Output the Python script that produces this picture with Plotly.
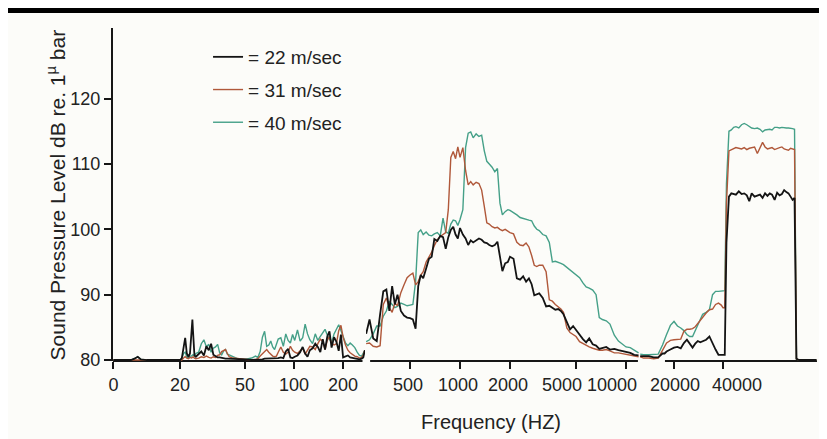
import plotly.graph_objects as go

# ---------------- data ----------------
# low band (0 .. ~270 Hz)
FREQ_LOW = [7.8, 9, 10, 10.5, 11, 11.5, 12.5, 15, 19, 20,
            20.5, 21, 21.5, 22, 22.5, 23, 23.5, 23.8, 24, 24.5,
            25, 26, 27, 28, 29, 30, 31, 32, 33, 34,
            35, 36, 37, 38, 39, 40, 42, 45, 50, 55,
            58, 60, 62, 64, 66, 68, 70, 72, 74, 76,
            78, 80, 83, 86, 89, 92, 95, 98, 101, 105,
            109, 113, 117, 121, 125, 130, 135, 140, 145, 150,
            155, 160, 165, 170, 176, 182, 188, 194, 200, 207,
            214, 221, 228, 236, 244, 252, 260, 266, 272]
SPL_22_LOW = [80, 80, 80, 80.2, 80.5, 80.1, 80, 80, 80, 80,
              80.3, 82.0, 83.4, 81.0, 80.5, 81.0, 83.5, 86.2, 84.5, 80.7,
              80.5, 80.9, 81.3, 80.7, 82.1, 81.5, 82.5, 80.8, 80.6, 80.4,
              80.4, 80.3, 80.3, 80.2, 80.2, 80.2, 80.2, 80.1, 80.1, 80.0,
              80.0, 80.1, 80.1, 80.1, 80.2, 80.2, 80.2, 80.2, 80.3, 80.2,
              80.2, 80.3, 80.4, 80.3, 81.3, 81.7, 80.4, 80.3, 80.5, 80.7,
              81.2, 82.0, 81.0, 80.5, 81.5, 81.8, 82.5, 82.0, 81.2, 83.2,
              81.6, 83.6, 84.4, 81.9, 83.5, 82.8, 81.4, 83.9, 80.4, 80.5,
              80.7, 80.4, 80.3, 80.2, 80.1, 80.1, 80.2, 80.4, 81.5]
SPL_31_LOW = [80, 80, 80, 80, 80, 80, 80, 80, 80, 80,
              80, 80.3, 80.5, 80.3, 80.2, 80.4, 80.3, 80.4, 80.5, 80.3,
              80.2, 80.3, 80.5, 80.4, 80.6, 80.4, 80.3, 80.5, 80.4, 80.7,
              80.8, 81.3, 81.5, 81.6, 81.0, 80.5, 80.3, 80.2, 80.1, 80.0,
              80.1, 80.2, 80.6, 81.0, 81.3, 81.6, 81.2, 80.9, 80.6, 80.5,
              80.6, 81.2, 82.0, 81.2, 80.9, 81.2, 82.1, 81.5, 81.2, 81.0,
              81.5, 81.8, 80.9, 81.5, 82.1, 82.0, 81.6, 82.5, 83.2, 82.8,
              81.6, 83.0, 83.6, 82.6, 82.3, 82.5, 84.5, 85.3, 83.5, 82.3,
              81.5, 81.1, 80.8, 80.6, 80.5, 80.3, 80.4, 80.8, 81.5]
SPL_40_LOW = [80, 80, 80, 80.2, 80.5, 80.1, 80, 80, 80, 80,
              80.2, 81.0, 81.2, 80.5, 80.3, 80.6, 80.6, 80.7, 80.8, 80.6,
              81.0, 81.2, 82.5, 83.1, 82.0, 82.4, 81.2, 81.8, 82.0, 82.4,
              81.1, 80.8, 81.4, 81.6, 80.9, 80.8, 80.5, 80.2, 80.1, 80.3,
              80.6, 80.4, 81.3, 83.5, 84.4, 82.1, 82.3, 82.9, 82.0, 81.6,
              82.4, 83.2, 83.4, 82.1, 84.0, 83.0, 82.6, 83.9, 83.0, 84.6,
              82.9, 83.4, 85.5, 84.0, 83.1, 82.5, 84.0, 83.0, 83.6, 84.2,
              84.7, 83.8, 83.2, 82.6, 84.0, 84.7, 85.4, 84.5, 83.5, 82.6,
              82.2, 82.6, 82.3, 81.9, 81.2, 80.7, 80.6, 81.0, 81.5]

# middle band (~270 Hz .. ~12 kHz)
FREQ_MID = [272, 285, 300, 315, 330, 345, 360, 375, 390, 405,
            420, 440, 460, 480, 500, 520, 540, 560, 580, 600,
            625, 650, 675, 700, 730, 760, 790, 820, 850, 880,
            910, 940, 970, 1000, 1040, 1080, 1120, 1160, 1200, 1250,
            1300, 1350, 1400, 1450, 1500, 1560, 1620, 1680, 1740, 1800,
            1870, 1940, 2000, 2100, 2200, 2300, 2400, 2500, 2600, 2700,
            2800, 2900, 3000, 3150, 3300, 3450, 3600, 3750, 3900, 4050,
            4200, 4400, 4600, 4800, 5000, 5250, 5500, 5750, 6000, 6300,
            6600, 6900, 7200, 7600, 8000, 8500, 9000, 9500, 10000, 10600,
            11200, 11900]
SPL_22_MID = [84.0, 86.2, 83.3, 82.9, 87.0, 90.5, 90.8, 87.5, 91.3, 88.5,
              90.0, 87.5, 86.8, 86.5, 86.4, 86.2, 84.8, 91.3, 93.0, 92.5,
              94.0, 95.5, 95.8, 98.5, 98.2, 99.0, 98.8, 97.0, 98.8, 99.9,
              100.4, 99.2, 98.6, 100.2, 99.2, 98.6, 97.6, 98.3, 98.0, 98.3,
              98.6, 98.4, 98.0, 97.9, 97.6, 97.4, 97.6, 98.1, 95.8, 93.6,
              94.8, 95.0, 95.8, 95.5, 92.5, 92.3, 92.8, 92.0, 92.5, 91.6,
              89.9, 90.0, 90.2, 89.5, 88.2, 88.3, 88.0, 87.7, 87.8, 87.5,
              87.0, 85.8, 84.7, 85.2, 84.6, 83.7, 83.2, 82.7, 83.3, 82.4,
              82.2, 81.7, 81.8, 82.0, 81.6, 81.7, 81.5, 81.4, 81.3, 81.1,
              80.8, 80.7]
SPL_31_MID = [82.5, 82.6, 82.1, 82.0, 82.2, 88.5, 89.5, 88.0, 87.3, 88.7,
              88.3, 90.3, 91.5, 92.6, 93.0, 93.3, 91.5, 92.0, 93.0, 93.5,
              95.0, 95.8, 96.5, 97.5, 98.4, 98.9, 99.2, 99.5, 103.0, 111.0,
              111.9, 110.8, 112.6, 111.0, 112.5, 109.0, 106.8, 107.3, 106.8, 107.2,
              107.0, 106.0, 103.5, 101.0, 100.8, 100.4, 100.2, 100.3, 100.0, 99.8,
              100.0, 99.7, 99.5, 99.3, 98.0, 97.6, 97.5, 97.9, 97.3, 96.0,
              94.5, 94.3, 94.5, 94.5, 93.5, 89.2, 89.0, 88.5, 88.2, 87.8,
              87.3, 84.9, 84.2, 83.9, 83.6, 82.8, 82.5, 82.2, 82.0, 81.8,
              81.6, 81.5, 81.5, 81.6, 81.4, 81.1, 81.1, 81.0, 80.8, 80.7,
              80.6, 80.5]
SPL_40_MID = [82.8, 83.1, 84.0, 85.2, 85.2, 86.7, 87.5, 89.0, 88.5, 88.0,
              88.2, 88.7, 88.5, 88.3, 88.4, 88.5, 92.0, 99.5, 99.9, 99.2,
              99.6, 99.1, 99.0, 99.3, 99.5, 99.0, 101.7, 99.6, 99.4, 100.8,
              101.4, 101.3, 100.6, 101.5, 103.0, 112.5, 114.7, 114.9, 114.0, 114.6,
              114.2, 114.4, 112.0, 110.4, 110.0, 109.5, 108.8, 109.3, 104.0, 102.2,
              102.7, 103.0, 102.9, 102.6, 102.2, 101.8, 101.7, 101.5, 101.4, 101.3,
              100.5, 100.0, 99.8, 99.2, 99.0, 98.0, 95.0, 95.1, 95.0, 94.8,
              94.6, 94.2, 93.8, 93.4, 93.0, 92.6, 91.8, 91.2, 91.0, 90.7,
              90.0, 86.5, 86.2, 86.0, 85.5, 83.8, 82.9, 82.4, 82.0, 81.9,
              81.5, 81.1]

# high band (~12 kHz .. 150 kHz)
FREQ_HIGH = [12400, 13000, 14000, 15000, 16000, 17000, 17500, 18000, 18500, 19000,
             20000, 21000, 22000, 23000, 24000, 25000, 26000, 27000, 28000, 29000,
             30000, 31500, 33000, 34500, 36000, 37500, 39000, 40000, 41000, 42000,
             43500, 45000, 46500, 48000, 50000, 52000, 54000, 56000, 58000, 60000,
             62500, 65000, 67500, 70000, 72500, 75000, 77500, 80000, 83000, 86000,
             89000, 92000, 95000, 98000, 101000, 104000, 107000, 110000, 113000, 117000,
             125000, 135000, 150000]
SPL_22_HIGH = [80.6, 80.6, 80.6, 80.4, 80.4, 81.0, 81.0, 81.3, 81.5, 81.6,
               81.9, 82.0, 81.8, 82.6, 83.1, 82.5, 81.9, 82.5, 82.9, 82.7,
               82.9, 83.1, 83.6, 82.5, 81.6, 80.8, 80.8, 80.8, 80.8, 98.0,
               105.0, 105.5, 105.4, 105.3, 105.8, 105.4, 105.5, 105.2, 104.3, 105.5,
               105.0, 105.2, 105.3, 104.8, 105.5, 105.1, 105.5, 105.3, 104.5, 105.6,
               105.2, 105.4, 106.0, 105.7, 105.5, 105.0, 104.5, 104.8, 80.2, 80.0,
               80.0, 80.0, 80.0]
SPL_31_HIGH = [80.5, 80.3, 80.3, 80.2, 80.3, 81.5, 82.0, 82.6, 82.8, 83.0,
               83.1, 83.1, 83.2, 84.4, 84.7, 84.7, 84.8, 85.1, 85.6, 86.2,
               86.6, 87.2, 87.7, 87.8, 88.5, 88.7, 88.4, 88.0, 88.0, 104.0,
               112.0, 112.2, 112.3, 112.5, 112.4, 112.3, 112.5, 112.2, 112.4, 112.5,
               112.6, 111.6, 112.4, 113.3, 112.6, 112.3, 112.4, 112.5, 112.2, 112.4,
               112.5, 112.6, 112.3, 112.2, 112.1, 112.4, 112.3, 112.2, 80.2, 80.0,
               80.0, 80.0, 80.0]
SPL_40_HIGH = [80.9, 80.8, 80.8, 80.8, 80.9, 82.3, 83.3, 83.9, 84.6, 85.3,
               85.9, 85.2, 84.9, 84.5, 83.9, 83.6, 83.6, 84.5, 85.5, 86.3,
               87.0, 87.3, 87.7, 90.0, 90.5, 90.5, 90.5, 90.6, 90.6, 107.0,
               115.0, 115.2, 115.6, 115.7, 115.5, 116.0, 116.2, 116.0, 115.7, 115.5,
               115.4, 115.5, 115.3, 114.9, 115.2, 115.3, 115.3, 115.2, 115.6, 115.6,
               115.5, 115.6, 115.5, 115.5, 115.5, 115.5, 115.4, 115.3, 80.2, 80.0,
               80.0, 80.0, 80.0]

SERIES_NAMES = ["= 22 m/sec", "= 31 m/sec", "= 40 m/sec"]

TICKS_LOW = [7.8, 20, 50, 100, 200]
TICK_TEXT_LOW = ["0", "20", "50", "100", "200"]
TICKS_MID = [500, 1000, 2000, 5000, 10000]
TICK_TEXT_MID = ["500", "1000", "2000", "5000", "10000"]
TICKS_HIGH = [20000, 40000]
TICK_TEXT_HIGH = ["20000", "40000"]
Y_TICKS = [80, 90, 100, 110, 120]

# ---------------- figure ----------------
FONT = "Liberation Sans, Arial, Helvetica, sans-serif"
INK = "#161616"
COLORS = {"= 22 m/sec": "#141414", "= 31 m/sec": "#b0583a", "= 40 m/sec": "#45a088"}
WIDTHS = {"= 22 m/sec": 1.8, "= 31 m/sec": 1.4, "= 40 m/sec": 1.4}
RANKS = {"= 22 m/sec": 1, "= 31 m/sec": 2, "= 40 m/sec": 3}

data = {
    "= 22 m/sec": (SPL_22_LOW, SPL_22_MID, SPL_22_HIGH),
    "= 31 m/sec": (SPL_31_LOW, SPL_31_MID, SPL_31_HIGH),
    "= 40 m/sec": (SPL_40_LOW, SPL_40_MID, SPL_40_HIGH),
}
bands = [("x", FREQ_LOW), ("x2", FREQ_MID), ("x3", FREQ_HIGH)]

fig = go.Figure()
for name in ["= 40 m/sec", "= 31 m/sec", "= 22 m/sec"]:   # black drawn on top
    for i, (xa, freq) in enumerate(bands):
        fig.add_trace(go.Scatter(
            x=freq, y=data[name][i], xaxis=xa, yaxis="y", mode="lines",
            line=dict(color=COLORS[name], width=WIDTHS[name]),
            name=name, legendgroup=name, showlegend=(i == 0),
            legendrank=RANKS[name], hoverinfo="skip"))

# empty carriers so the two label-only overlay axes get rendered
for xa in ("x4", "x5"):
    fig.add_trace(go.Scatter(x=[], y=[], xaxis=xa, yaxis="y", mode="lines",
                             showlegend=False, hoverinfo="skip"))

xcommon = dict(type="log", anchor="y", showgrid=False, zeroline=False,
               showline=False, ticks="outside", ticklen=7, tickwidth=1.5,
               tickcolor=INK, tickangle=0, automargin=False,
               tickfont=dict(family=FONT, size=18, color="#222"))

MID_DOMAIN, MID_RANGE = [0.3594, 0.7472], [2.4337, 4.0783]
HIGH_DOMAIN, HIGH_RANGE = [0.7486, 1.0], [4.0922, 5.1794]

# the page body adds an 8px offset, so the figure is 8px smaller than the window
fig.update_layout(
    template="none",
    width=819, height=431,
    margin=dict(l=105, r=10, t=20, b=78, autoexpand=False),
    paper_bgcolor="#fcfcf9", plot_bgcolor="#fcfcf9",
    showlegend=True,
    legend=dict(x=0.135, y=0.97, xanchor="left", yanchor="top",
                traceorder="grouped", tracegroupgap=5,
                bgcolor="rgba(0,0,0,0)", itemwidth=30, borderwidth=0,
                font=dict(family=FONT, size=19, color="#222")),
    xaxis=dict(domain=[0, 0.358], range=[0.8896, 2.4356],
               tickvals=TICKS_LOW, ticktext=TICK_TEXT_LOW, **xcommon),
    # middle band: labels typeset slightly left of their ticks in the original
    xaxis2=dict(domain=MID_DOMAIN, range=MID_RANGE,
                tickvals=TICKS_MID[:3], ticktext=TICK_TEXT_MID[:3],
                ticklabelshift=-2, **xcommon),
    xaxis4=dict(overlaying="x2", domain=MID_DOMAIN, range=MID_RANGE,
                tickvals=TICKS_MID[3:], ticktext=TICK_TEXT_MID[3:],
                ticklabelshift=-14, side="bottom", **xcommon),
    # high band
    xaxis3=dict(domain=HIGH_DOMAIN, range=HIGH_RANGE,
                tickvals=TICKS_HIGH[:1], ticktext=TICK_TEXT_HIGH[:1],
                ticklabelshift=1, **xcommon),
    xaxis5=dict(overlaying="x3", domain=HIGH_DOMAIN, range=HIGH_RANGE,
                tickvals=TICKS_HIGH[1:], ticktext=TICK_TEXT_HIGH[1:],
                ticklabelshift=14, side="bottom", **xcommon),
    yaxis=dict(domain=[0, 1], range=[79.85, 130.8], anchor="x",
               tickvals=Y_TICKS, ticks="outside", ticklen=7, tickwidth=2,
               tickcolor=INK, showline=True, linewidth=2, linecolor=INK,
               showgrid=False, zeroline=False, automargin=False,
               tickfont=dict(family=FONT, size=18, color="#222")),
    annotations=[
        dict(text="Frequency (HZ)", xref="paper", yref="paper", x=0.537, y=-0.182,
             xanchor="center", yanchor="middle", showarrow=False,
             font=dict(family=FONT, size=20, color="#222")),
        dict(text="Sound Pressure Level dB re. 1<sup>µ</sup> bar", xref="paper", yref="paper",
             x=-0.081, y=0.5, xanchor="center", yanchor="middle", textangle=-90,
             showarrow=False, font=dict(family=FONT, size=21, color="#222")),
    ],
    shapes=[
        # broken baseline segments
        dict(type="line", xref="x domain", yref="y domain", x0=0, x1=0.99, y0=0, y1=0,
             line=dict(color=INK, width=2), layer="below"),
        dict(type="line", xref="x2 domain", yref="y domain", x0=0.015, x1=0.996, y0=0, y1=0,
             line=dict(color=INK, width=2), layer="below"),
        dict(type="line", xref="x3 domain", yref="y domain", x0=0.141, x1=1.0, y0=0, y1=0,
             line=dict(color=INK, width=2), layer="below"),
        # page border line at the top of the scan
        dict(type="line", xref="paper", yref="paper", x0=-0.2, x1=1.1, y0=1.0526, y1=1.0526,
             line=dict(color="#000", width=5)),
    ],
)

fig.write_html("out.html")
